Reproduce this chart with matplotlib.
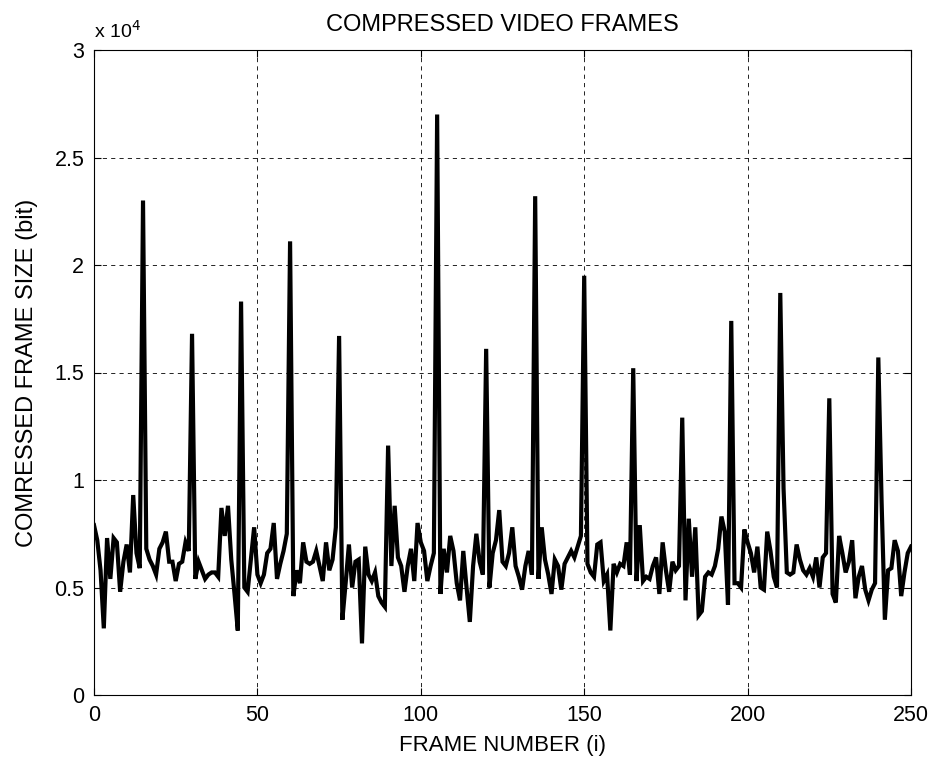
import numpy as np
import matplotlib
matplotlib.use("Agg")
import matplotlib.pyplot as plt

# compressed frame size, in units of 10^4 bit, frames 0..250
frame_size = [
    0.79, 0.72, 0.58, 0.31, 0.73, 0.54, 0.73, 0.71, 0.48, 0.62,
    0.70, 0.57, 0.93, 0.66, 0.59, 2.30, 0.68, 0.63, 0.60, 0.56,
    0.68, 0.71, 0.76, 0.62, 0.62, 0.53, 0.61, 0.62, 0.71, 0.67,
    1.68, 0.54, 0.62, 0.58, 0.54, 0.56, 0.57, 0.57, 0.55, 0.87,
    0.74, 0.88, 0.63, 0.47, 0.30, 1.83, 0.50, 0.48, 0.63, 0.78,
    0.56, 0.52, 0.56, 0.66, 0.68, 0.80, 0.54, 0.61, 0.67, 0.75,
    2.11, 0.46, 0.58, 0.52, 0.71, 0.62, 0.61, 0.62, 0.67, 0.60,
    0.53, 0.71, 0.58, 0.63, 0.78, 1.67, 0.35, 0.52, 0.70, 0.50,
    0.62, 0.63, 0.24, 0.69, 0.56, 0.53, 0.57, 0.46, 0.43, 0.41,
    1.16, 0.60, 0.88, 0.64, 0.60, 0.48, 0.60, 0.68, 0.53, 0.80,
    0.71, 0.67, 0.53, 0.60, 0.66, 2.70, 0.47, 0.68, 0.57, 0.74,
    0.67, 0.52, 0.44, 0.67, 0.50, 0.34, 0.60, 0.75, 0.62, 0.56,
    1.61, 0.50, 0.66, 0.72, 0.86, 0.62, 0.60, 0.66, 0.78, 0.60,
    0.55, 0.49, 0.60, 0.67, 0.56, 2.32, 0.54, 0.78, 0.63, 0.56,
    0.47, 0.63, 0.60, 0.49, 0.61, 0.64, 0.67, 0.64, 0.69, 0.74,
    1.95, 0.61, 0.57, 0.55, 0.70, 0.71, 0.53, 0.56, 0.30, 0.61,
    0.57, 0.61, 0.60, 0.71, 0.56, 1.52, 0.53, 0.79, 0.53, 0.55,
    0.54, 0.60, 0.64, 0.47, 0.71, 0.58, 0.48, 0.62, 0.58, 0.60,
    1.29, 0.44, 0.82, 0.55, 0.78, 0.37, 0.39, 0.55, 0.57, 0.56,
    0.60, 0.68, 0.83, 0.76, 0.42, 1.74, 0.52, 0.52, 0.50, 0.77,
    0.71, 0.66, 0.57, 0.69, 0.50, 0.49, 0.76, 0.67, 0.55, 0.50,
    1.87, 0.96, 0.57, 0.56, 0.57, 0.70, 0.63, 0.58, 0.56, 0.59,
    0.55, 0.64, 0.50, 0.64, 0.66, 1.38, 0.47, 0.43, 0.74, 0.66,
    0.57, 0.62, 0.72, 0.45, 0.55, 0.60, 0.49, 0.44, 0.49, 0.52,
    1.57, 0.90, 0.35, 0.58, 0.59, 0.72, 0.67, 0.46, 0.57, 0.66,
    0.69,
]
frames = np.arange(len(frame_size))

x_ticks = [0, 50, 100, 150, 200, 250]
y_ticks = [0, 0.5, 1, 1.5, 2, 2.5, 3]
y_ticklabels = ["0", "0.5", "1", "1.5", "2", "2.5", "3"]

plt.rcParams['font.family'] = ['Liberation Sans', 'DejaVu Sans']

fig = plt.figure(figsize=(9.35, 7.61), dpi=100)
ax = fig.add_axes((94 / 935, 1 - 695 / 761, (911 - 94) / 935, (695 - 50) / 761))

ax.plot(frames, frame_size, color='black', linewidth=3.0, solid_joinstyle='miter')

ax.set_xlim(0, 250)
ax.set_ylim(0, 3)
ax.set_xticks(x_ticks)
ax.set_yticks(y_ticks)
ax.set_yticklabels(y_ticklabels)
ax.tick_params(direction='in', length=5, width=0.8, labelsize=15.5,
               top=True, right=True, pad=7)
ax.grid(True, color='black', linestyle=(0, (5, 5)), linewidth=0.6)
for s in ax.spines.values():
    s.set_linewidth(0.8)

ax.set_title('COMPRESSED VIDEO FRAMES', fontsize=17, pad=14)
ax.set_xlabel('FRAME NUMBER (i)', fontsize=16, labelpad=7)
ax.set_ylabel('COMRESSED FRAME SIZE (bit)', fontsize=17, labelpad=12)
ax.text(0, 1.012, r'x 10$^4$', transform=ax.transAxes, fontsize=14,
        ha='left', va='bottom')

fig.savefig('out.png', dpi=100)
